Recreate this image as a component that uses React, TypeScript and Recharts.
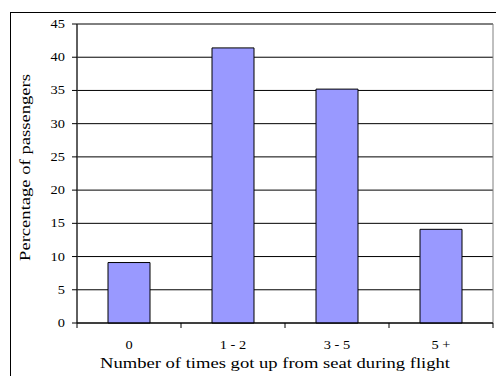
import { BarChart, Bar, XAxis, YAxis, CartesianGrid, ReferenceArea } from 'recharts'

const categories = ['0', '1 - 2', '3 - 5', '5 +']
const percentages = [9.1, 41.4, 35.2, 14.1]
const yTicks = [0, 5, 10, 15, 20, 25, 30, 35, 40, 45]

const data = categories.map((name, i) => ({ name, value: percentages[i] }))

const FONT = 'Liberation Serif, serif'
// the original text is a little wider than it is tall
const STRETCH = 1.2
const textStyle = { fontFamily: FONT, fill: '#000' }

function CategoryTick(props: any) {
  const { x, y, payload, index } = props
  const half = payload?.offset ?? 52
  return (
    <g>
      {index === 0 && <line x1={x - half} x2={x - half} y1={y} y2={y + 5} stroke="#000" />}
      <line x1={x + half} x2={x + half} y1={y} y2={y + 5} stroke="#000" />
      <text
        transform={`translate(${x} ${y + 26}) scale(${STRETCH} 1)`}
        textAnchor="middle"
        fontSize={12}
        style={textStyle}
      >
        {payload.value}
      </text>
    </g>
  )
}

function ValueTick(props: any) {
  const { x, y, payload } = props
  return (
    <text
      transform={`translate(${x} ${y + 4}) scale(${STRETCH} 1)`}
      textAnchor="end"
      fontSize={12}
      style={textStyle}
    >
      {payload.value}
    </text>
  )
}

function XTitle(props: any) {
  const vb = props.viewBox ?? { x: 77, width: 416 }
  const cx = vb.x + vb.width / 2 - 10
  return (
    <text transform={`translate(${cx} 368) scale(${STRETCH} 1)`} textAnchor="middle" fontSize={15.5} style={textStyle}>
      Number of times got up from seat during flight
    </text>
  )
}

function YTitle(props: any) {
  const vb = props.viewBox ?? { y: 24, height: 299 }
  const cy = vb.y + vb.height / 2 - 6
  return (
    <text transform={`translate(30 ${cy}) rotate(-90) scale(${STRETCH} 1)`} textAnchor="middle" fontSize={15.5} style={textStyle}>
      Percentage of passengers
    </text>
  )
}

export default function App() {
  return (
    <div style={{ position: 'absolute', left: 0, top: 0, width: 496, height: 376, background: '#fff', overflow: 'hidden', fontFamily: FONT }}>
      <div style={{ position: 'absolute', left: 10, top: 12, width: 520, height: 420, border: '1px solid #000' }} />
      <BarChart width={496} height={376} data={data} margin={{ top: 24, right: 3, bottom: 0, left: 0 }}>
        <CartesianGrid vertical={false} stroke="#000" />
        <ReferenceArea y1={0} y2={45} fill="none" stroke="#808080" ifOverflow="visible" />
        <XAxis
          dataKey="name"
          height={53}
          axisLine={{ stroke: '#000' }}
          tickLine={false}
          tickSize={0}
          tickMargin={0}
          tick={<CategoryTick />}
          interval={0}
          label={<XTitle />}
        />
        <YAxis
          width={77}
          domain={[0, 45]}
          ticks={yTicks}
          interval={0}
          axisLine={{ stroke: '#000' }}
          tickLine={{ stroke: '#000' }}
          tickSize={5}
          tickMargin={7}
          tick={<ValueTick />}
          label={<YTitle />}
        />
        <Bar dataKey="value" fill="#9999FF" stroke="#000" strokeWidth={1} barSize={42} isAnimationActive={false} />
      </BarChart>
    </div>
  )
}
